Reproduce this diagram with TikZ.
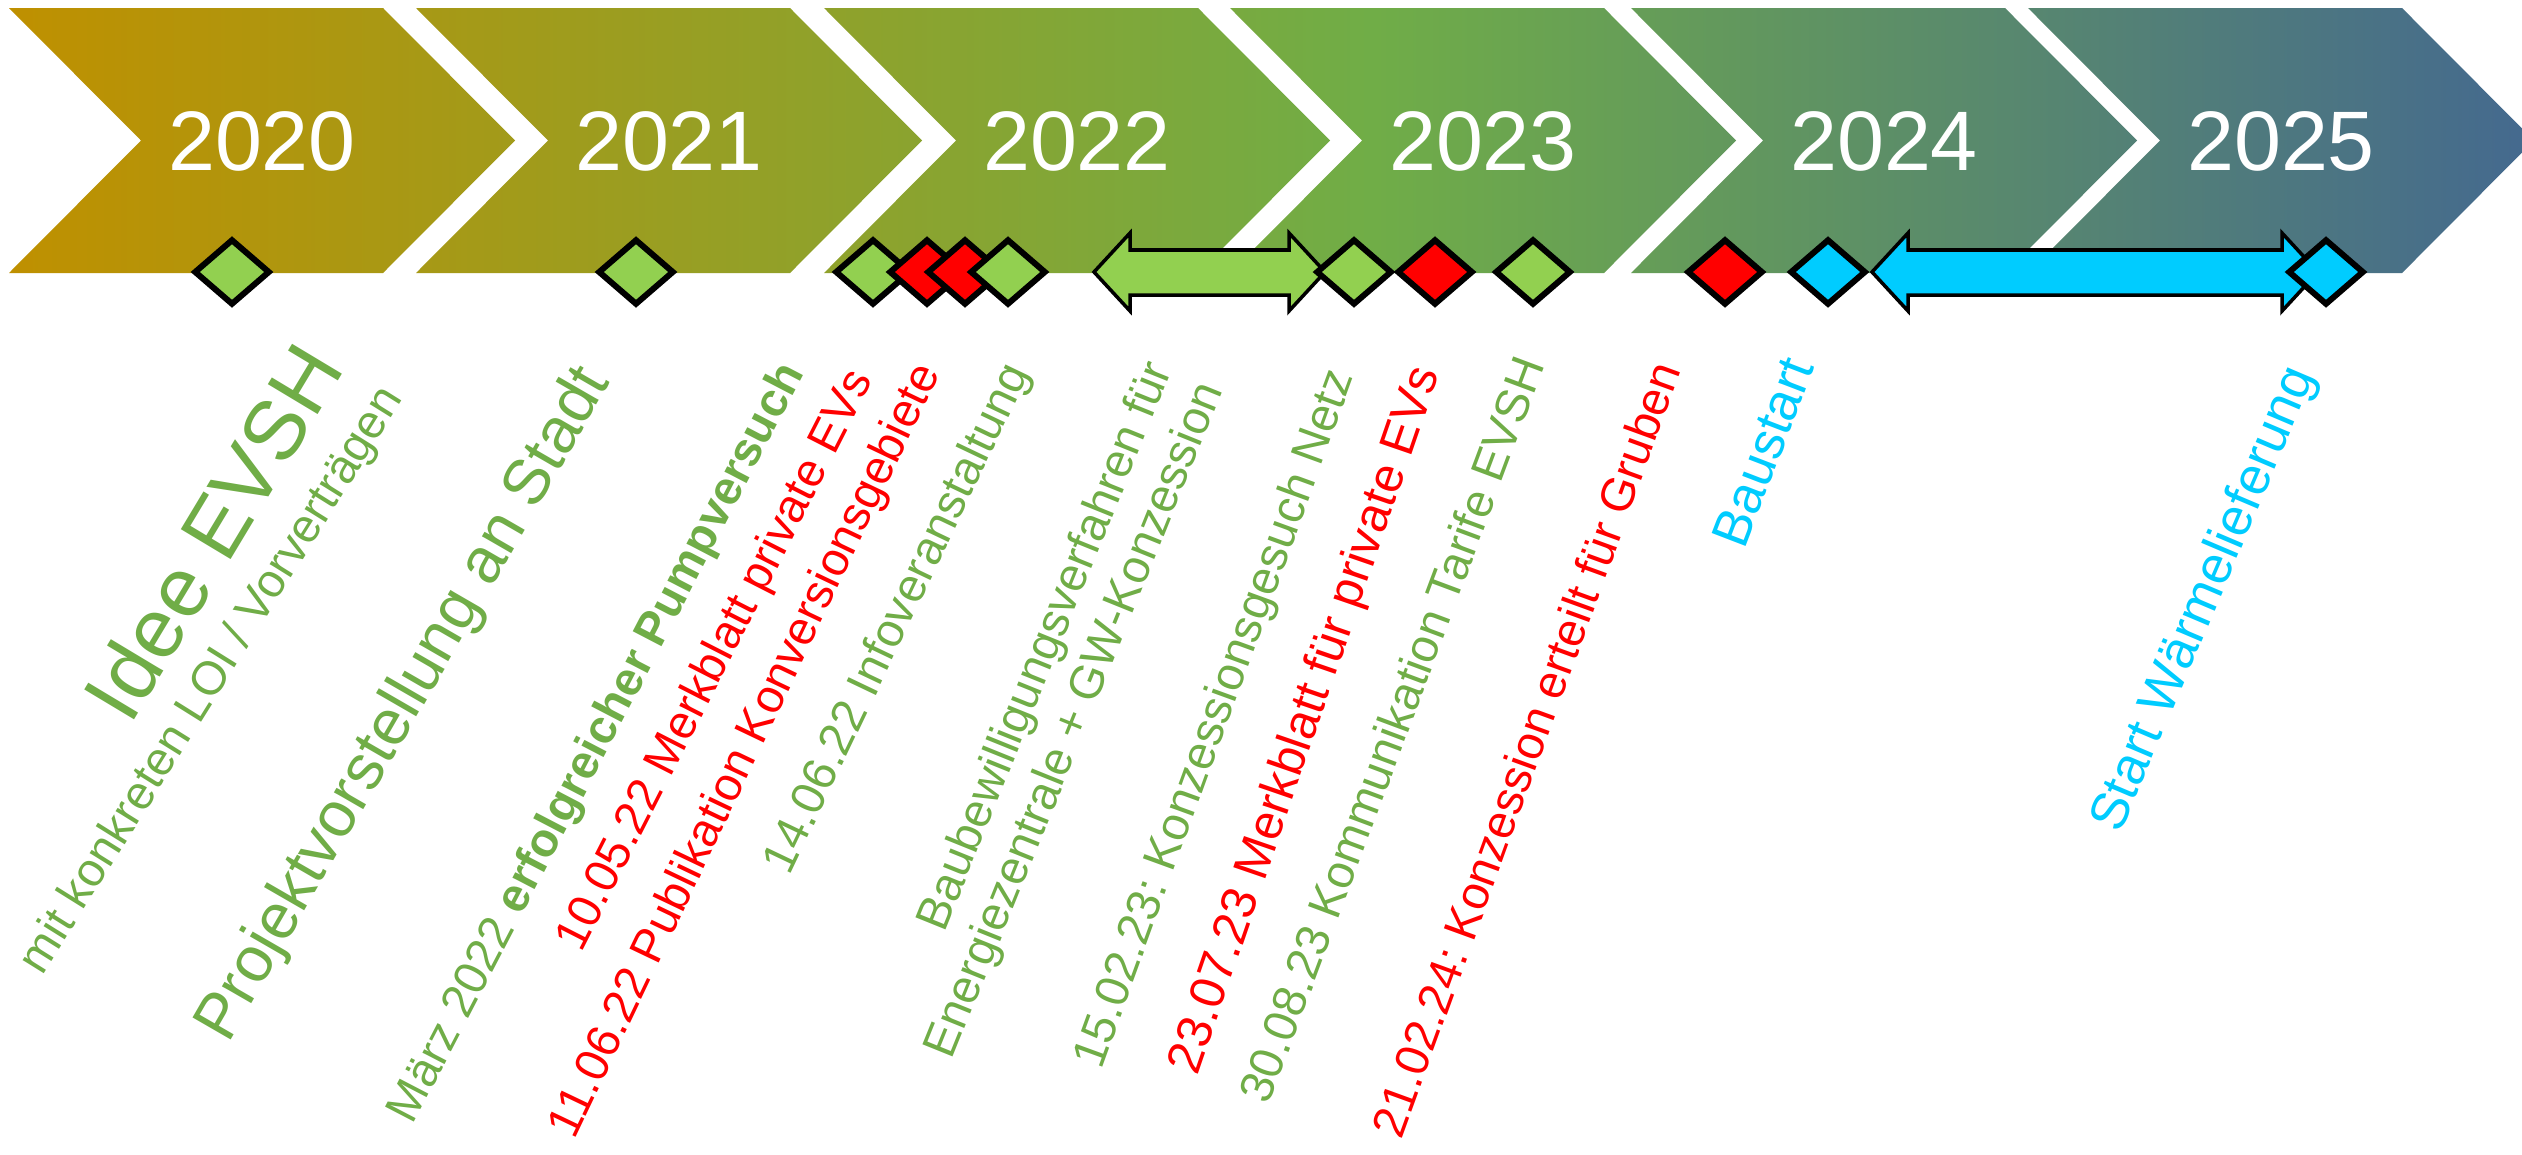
\documentclass[tikz,border=0pt]{standalone}
\usepackage{fontspec}
\setmainfont{Liberation Sans}
\usepackage{tikz}
\usetikzlibrary{shapes.geometric}
\definecolor{bbttqq}{rgb}{0.749,0.5647,0.}
\definecolor{wwaaww}{rgb}{0.4392,0.6784,0.2784}
\definecolor{wwwwtt}{rgb}{0.2667,0.4118,0.5608}
\definecolor{ttddww}{rgb}{0.5725,0.8157,0.3137}
\definecolor{ffqqqq}{rgb}{1.,0.,0.}
\definecolor{qqccff}{rgb}{0.,0.8,1.}
\pgfdeclarehorizontalshading{zeitachse}{100bp}{color(0bp)=(bbttqq); color(25bp)=(bbttqq); color(52bp)=(wwaaww); color(75bp)=(wwwwtt); color(100bp)=(wwwwtt)}

\begin{document}
\frenchspacing
\begin{tikzpicture}[line cap=round,line join=round,x=0.01cm,y=-0.01cm,
  jahr/.style={text=white,inner sep=0pt,font=\fontsize{24pt}{28pt}\selectfont},
  meilenstein/.style={diamond,draw=black,line width=1.7pt,line join=miter,minimum width=0.76cm,minimum height=0.66cm,inner sep=0pt},
  zeitraum/.style={draw=black,line width=1pt,line join=miter},
  ereignis/.style={anchor=base east,inner sep=0pt,font=\fontsize{13.4pt}{15.6pt}\selectfont}]
\path [use as bounding box,fill=white] (0,0) rectangle (2522,1154);
\shade [shading=zeitachse] \foreach \l in {9,416,824,1230,1631,2028} {(\l,8) -- (\l+374,8) -- (\l+506,140.5) -- (\l+374,273) -- (\l,273) -- (\l+132,140.5) -- cycle};
\foreach \l/\j in {9/2020,416/2021,824/2022,1230/2023,1631/2024,2028/2025}
  \node [jahr] (j\j) at (\l+253,141) {\j};
\foreach \a/\b/\c in {1094/1325/ttddww,1872/2318/qqccff}
  \draw [zeitraum,fill=\c] (\a,272) -- (\a+36,233) -- (\a+36,250) -- (\b-36,250) -- (\b-36,233) -- (\b,272) -- (\b-36,311) -- (\b-36,295) -- (\a+36,295) -- (\a+36,311) -- cycle;
\foreach \x/\c [count=\i] in {232/ttddww,636/ttddww,873/ttddww,927/ffqqqq,965/ffqqqq,1008/ttddww,1354/ttddww,1435/ffqqqq,1533/ttddww,1725/ffqqqq,1828/qqccff,2326/qqccff}
  \node [meilenstein,fill=\c] (m\i) at (\x,272) {};
\node [ereignis,text=wwaaww,rotate=59,font=\fontsize{24pt}{28pt}\selectfont] (idee) at (346,368) {Idee EVSH};
\node [ereignis,text=wwaaww,rotate=58] (loi) at (404,398) {mit konkreten LOI / Vorverträgen};
\node [ereignis,text=wwaaww,rotate=60,font=\fontsize{18.2pt}{22pt}\selectfont] (stadt) at (611,381) {Projektvorstellung an Stadt};
\node [ereignis,text=wwaaww,rotate=62.5] (pump) at (805,372) {März 2022 \textbf{erfolgreicher Pumpversuch}};
\node [ereignis,text=ffqqqq,rotate=63] (merk1) at (874,379) {10.05.22 Merkblatt private EVs};
\node [ereignis,text=ffqqqq,rotate=64.5] (publ) at (941,372) {11.06.22 Publikation Konversionsgebiete};
\node [ereignis,text=wwaaww,rotate=64.5] (info) at (1030,372) {14.06.22 Infoveranstaltung};
\node [ereignis,text=wwaaww,rotate=68,anchor=north east,align=right] (baubew) at (1140,356) {Baubewilligungsverfahren für\\Energiezentrale + GW-Konzession};
\node [ereignis,text=wwaaww,rotate=70] (netz) at (1354,376) {15.02.23: Konzessionsgesuch Netz};
\node [ereignis,text=ffqqqq,rotate=71,font=\fontsize{14pt}{16pt}\selectfont] (merk2) at (1440,372) {23.07.23 Merkblatt für private EVs};
\node [ereignis,text=wwaaww,rotate=69.5] (tarif) at (1546,364) {30.08.23 Kommunikation Tarife EVSH};
\node [ereignis,text=ffqqqq,rotate=70] (gruben) at (1682,369) {21.02.24: Konzession erteilt für Gruben};
\node [ereignis,text=qqccff,rotate=69,font=\fontsize{15pt}{18pt}\selectfont] (bau) at (1815,366) {Baustart};
\node [ereignis,text=qqccff,rotate=67,font=\fontsize{15pt}{18pt}\selectfont] (waerme) at (2315,375) {Start Wärmelieferung};
\end{tikzpicture}
\end{document}
